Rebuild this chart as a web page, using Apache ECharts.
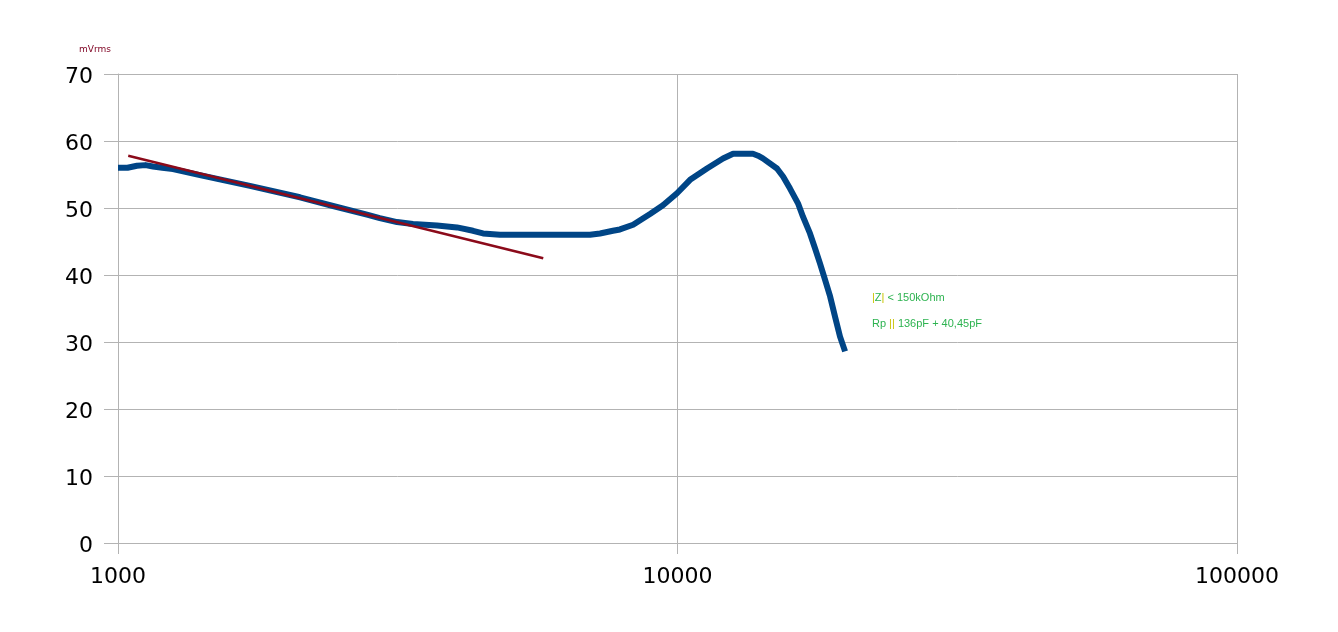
<!DOCTYPE html>
<html>
<head>
<meta charset="utf-8">
<script src="https://cdn.jsdelivr.net/npm/echarts@6/dist/echarts.min.js"></script>
<style>html,body{margin:0;padding:0;background:#fff}#c{width:1338px;height:632px}</style>
</head>
<body>
<div id="c"></div>
<script>
var freq = [1000,1040,1081,1120,1155,1200,1254,1401,1721,2115,2423,2786,2937,3153,3367,3717,4036,4311,4492,4816,6976,7270,7666,7890,8330,8930,9420,9980,10530,11290,12060,12570,13640,13930,14210,15060,15440,15890,16420,16760,17250,17610,17980,18350,18740,19120,19520,19930];
var mv = [56.0,56.0,56.3,56.4,56.2,56.0,55.8,54.9,53.3,51.6,50.3,49.0,48.5,47.9,47.6,47.4,47.1,46.6,46.2,46.0,46.0,46.2,46.6,46.8,47.5,49.1,50.4,52.2,54.2,55.9,57.4,58.1,58.1,57.8,57.4,55.9,54.7,52.9,50.7,48.7,46.2,44.0,41.7,39.3,36.8,33.8,30.8,28.6];
var trendFreq = [1043,5755];
var trendMv = [57.8,42.5];
var xTicks = [1000,10000,100000];
var yName = 'mVrms';
var note1 = ['|','Z','|',' < 150kOhm'];
var note2 = ['Rp ','||',' 136pF + 40,45pF'];

var chart = echarts.init(document.getElementById('c'));
var gridC = '#b3b3b3';
function zip(a,b){return a.map(function(v,i){return [v,b[i]];});}
chart.setOption({
  animation:false,
  grid:{left:118,right:101,top:74,bottom:89,containLabel:false},
  xAxis:{type:'log',logBase:10,min:1000,max:100000,
    axisLine:{show:true,lineStyle:{color:gridC,width:1}},
    axisTick:{show:true,length:11,lineStyle:{color:gridC}},
    minorTick:{show:false},
    splitLine:{show:true,lineStyle:{color:gridC,width:1}},
    axisLabel:{color:'#000',fontFamily:'DejaVu Sans',fontSize:22,margin:23,
      formatter:function(v){return xTicks.indexOf(Math.round(v))>=0?String(Math.round(v)):'';}}
  },
  yAxis:{type:'value',min:0,max:70,interval:10,
    name:yName,nameLocation:'end',nameGap:20,
    nameTextStyle:{color:'#7e0021',fontSize:9,fontFamily:'DejaVu Sans',align:'right',padding:[0,7,0,0]},
    axisLine:{show:true,lineStyle:{color:gridC,width:1}},
    axisTick:{show:true,length:14,lineStyle:{color:gridC}},
    splitLine:{show:true,lineStyle:{color:gridC,width:1}},
    axisLabel:{margin:25,formatter:'{a|{value}}',
      rich:{a:{color:'#000',fontFamily:'DejaVu Sans',fontSize:22,padding:[6,0,0,0]}}}
  },
  series:[
    {type:'line',data:zip(freq,mv),showSymbol:false,symbol:'none',
     lineStyle:{color:'#004586',width:6,cap:'butt',join:'round'},itemStyle:{color:'#004586'},z:2},
    {type:'line',data:zip(trendFreq,trendMv),showSymbol:false,symbol:'none',
     lineStyle:{color:'#8b0a1a',width:2.5},itemStyle:{color:'#8b0a1a'},z:3}
  ],
  graphic:[
    {type:'text',left:872,top:292,style:{
      text:'{y|'+note1[0]+'}{g|'+note1[1]+'}{y|'+note1[2]+'}{g|'+note1[3]+'}',
      rich:{y:{fill:'#c9c300',fontSize:11,fontFamily:'Liberation Sans'},g:{fill:'#2db350',fontSize:11,fontFamily:'Liberation Sans'}}}},
    {type:'text',left:872,top:318,style:{
      text:'{g|'+note2[0]+'}{y|'+note2[1]+'}{g|'+note2[2]+'}',
      rich:{y:{fill:'#c9c300',fontSize:11,fontFamily:'Liberation Sans'},g:{fill:'#2db350',fontSize:11,fontFamily:'Liberation Sans'}}}}
  ]
});
</script>
</body>
</html>
